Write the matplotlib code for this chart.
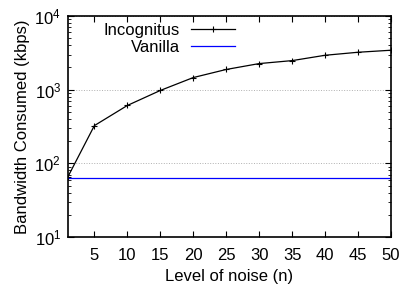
import matplotlib
matplotlib.use("Agg")
import matplotlib.pyplot as plt
from matplotlib.ticker import LogLocator, NullFormatter

plt.rcParams['font.family'] = ['Liberation Sans', 'DejaVu Sans']

noise = [1, 5, 10, 15, 20, 25, 30, 35, 40, 45, 50]
incognitus = [66, 325, 610, 975, 1460, 1880, 2260, 2480, 2930, 3220, 3430]
vanilla = [64] * len(noise)
xticks = [5, 10, 15, 20, 25, 30, 35, 40, 45, 50]

fig = plt.figure(figsize=(4.06, 2.89), dpi=100)
ax = fig.add_axes([68 / 406, 1 - 237 / 289, (391 - 68) / 406, (237 - 16) / 289])

ax.plot(noise, incognitus, color="black", lw=0.9, marker="+", ms=4, mew=0.8, label="Incognitus")
ax.plot(noise, vanilla, color="#0000ff", lw=0.9, label="Vanilla")

ax.set_yscale("log")
ax.set_xlim(1, 50)
ax.set_ylim(10, 10000)
ax.set_xticks(xticks)
ax.yaxis.set_major_locator(LogLocator(base=10, numticks=10))
ax.yaxis.set_minor_locator(LogLocator(base=10, subs=range(2, 10), numticks=10))
ax.yaxis.set_minor_formatter(NullFormatter())
ax.tick_params(direction="in", top=True, right=True, labelsize=12, length=4, width=0.8)
ax.tick_params(which="minor", direction="in", right=True, length=2, width=0.6)
ax.tick_params(axis="x", pad=8)
ax.tick_params(axis="y", pad=5)
ax.grid(True, axis="y", which="major", color="#b0b0b0", linestyle=":", linewidth=0.7)
for s in ax.spines.values():
    s.set_linewidth(1.2)

ax.set_xlabel("Level of noise (n)", fontsize=12, labelpad=4)
ax.set_ylabel("Bandwidth Consumed (kbps)", fontsize=12, labelpad=3)

ax.legend(loc="upper left", bbox_to_anchor=(0.07, 1.03), frameon=False, markerfirst=False,
          fontsize=12, handlelength=2.65, handletextpad=0.65, labelspacing=0.15, borderpad=0.3)

fig.savefig("out.png", dpi=100)
